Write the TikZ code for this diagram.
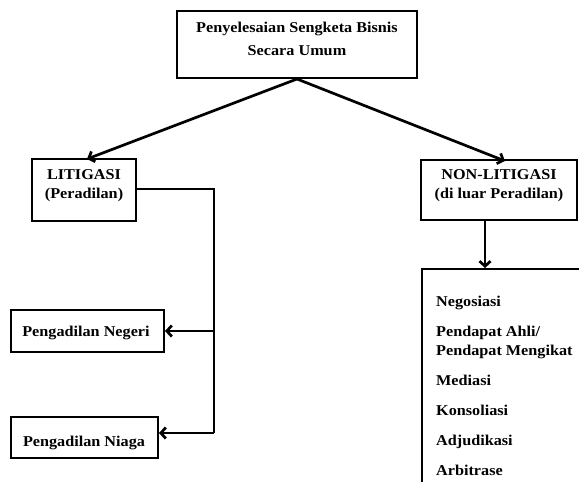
\documentclass[tikz,border=0pt]{standalone}
\usepackage{fontspec}
\setmainfont[FakeStretch=1.08]{Liberation Serif}
\usetikzlibrary{arrows.meta}
\begin{document}
\begin{tikzpicture}[x=1pt,y=-1pt,
  box/.style={draw,line width=2pt,inner sep=0pt,align=center},
  txt/.style={inner sep=0pt,align=center,font=\fontsize{15}{19}\selectfont\bfseries},
  itemtxt/.style={inner sep=0pt,align=left,anchor=base west,font=\fontsize{15}{19}\selectfont\bfseries},
  conn/.style={line width=2.7pt},
  arr/.style={conn,-{Straight Barb[length=5pt,width=11pt]}}]
\useasboundingbox (0,0) rectangle (579,482);
\clip (0,0) rectangle (579,482);
\fill[white] (0,0) rectangle (579,482);
% boxes
\node[box,minimum width=240,minimum height=67] (top) at (297,44.5) {};
\node[txt,anchor=base,font=\fontsize{15}{23}\selectfont\bfseries] (toptxt) at (297,55) {Penyelesaian Sengketa Bisnis\\Secara Umum};
\node[box,minimum width=104,minimum height=62] (lit) at (84,190) {};
\node[txt,anchor=base] (littxt) at (84,198.5) {LITIGASI\\(Peradilan)};
\node[box,minimum width=156,minimum height=60] (nonlit) at (499,190) {};
\node[txt,anchor=base] (nonlittxt) at (499,198) {NON-LITIGASI\\(di luar Peradilan)};
\node[box,minimum width=153,minimum height=42] (negeri) at (87.5,331) {};
\node[txt,anchor=base] (negeritxt) at (86,336) {Pengadilan Negeri};
\node[box,minimum width=147,minimum height=41] (niaga) at (84.5,437.8) {};
\node[txt,anchor=base] (niagatxt) at (84,446.5) {Pengadilan Niaga};
\node[box,anchor=north west,minimum width=240,minimum height=240] (list) at (421,268) {};
\node[itemtxt] (i1) at (436,306) {Negosiasi};
\node[itemtxt] (i2) at (436,355) {Pendapat Ahli/\\Pendapat Mengikat};
\node[itemtxt] (i3) at (436,385) {Mediasi};
\node[itemtxt] (i4) at (436,415) {Konsoliasi};
\node[itemtxt] (i5) at (436,445) {Adjudikasi};
\node[itemtxt] (i6) at (436,475) {Arbitrase};
% connectors
\draw[arr] (top.south) -- ([xshift=3pt,yshift=-1pt]lit.north);
\draw[arr] (top.south) -- ([xshift=6pt,yshift=-2pt]nonlit.north);
\coordinate (j) at (214,189);
\coordinate (jb) at (214,433);
\draw[conn] (lit.east |- j) -- (j) -- (jb);
\draw[arr] (j |- negeri.east) -- (negeri.east);
\draw[arr] (jb) -- (jb -| niaga.east);
\draw[arr] ([xshift=-14pt]nonlit.south) -- ([xshift=-14pt]nonlit.south |- list.north);
\end{tikzpicture}
\end{document}
